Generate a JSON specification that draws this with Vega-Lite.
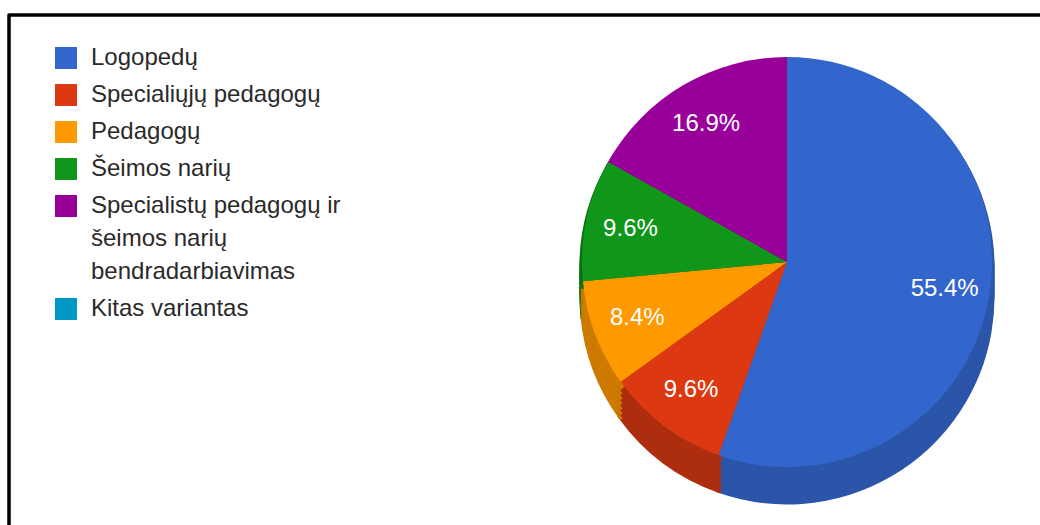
{
  "$schema": "https://vega.github.io/schema/vega-lite/v6.json",
  "width": 1040,
  "height": 520,
  "autosize": "none",
  "padding": {"left": 9, "top": 15, "right": 0, "bottom": 0},
  "background": "white",
  "config": {
    "view": {"stroke": "#000000", "strokeWidth": 3},
    "style": {"guide-label": {"lineHeight": 33}}
  },
  "datasets": {
    "antwoorden": [
      {"ord": 1, "kategorija": "Logopedų", "count": 46, "label": "55.4%"},
      {"ord": 2, "kategorija": "Specialiųjų pedagogų", "count": 8, "label": "9.6%"},
      {"ord": 3, "kategorija": "Pedagogų", "count": 7, "label": "8.4%"},
      {"ord": 4, "kategorija": "Šeimos narių", "count": 8, "label": "9.6%"},
      {"ord": 5, "kategorija": "Specialistų pedagogų ir šeimos narių bendradarbiavimas", "count": 14, "label": "16.9%"},
      {"ord": 6, "kategorija": "Kitas variantas", "count": 0, "label": ""}
    ],
    "frame": [{"f": 1}]
  },
  "data": {"name": "antwoorden"},
  "layer": [
    {
      "data": {"name": "frame"},
      "mark": {"type": "rule", "color": "#000000", "strokeWidth": 3},
      "encoding": {"x": {"datum": 0, "type": "quantitative", "scale": {"domain": [0, 1]}, "axis": null}}
    },
    {
      "data": {"name": "frame"},
      "mark": {"type": "rule", "color": "#000000", "strokeWidth": 3},
      "encoding": {"y": {"datum": 1, "type": "quantitative", "scale": {"domain": [0, 1]}, "axis": null}}
    },
    {
      "mark": {"type": "arc", "x": 778, "y": 247, "outerRadius": 205, "yOffset": 35, "strokeWidth": 5},
      "encoding": {
        "theta": {"field": "count", "type": "quantitative", "stack": true},
        "order": {"field": "ord", "type": "quantitative"},
        "fill": {"field": "kategorija", "type": "nominal", "scale": {"domain": ["Logopedų", "Specialiųjų pedagogų", "Pedagogų", "Šeimos narių", "Specialistų pedagogų ir šeimos narių bendradarbiavimas", "Kitas variantas"], "range": ["#2b55a9", "#ad2d0f", "#cc7a00", "#0c7012", "#720072", "#0077a0"]}, "legend": null},
        "stroke": {"field": "kategorija", "type": "nominal", "scale": {"domain": ["Logopedų", "Specialiųjų pedagogų", "Pedagogų", "Šeimos narių", "Specialistų pedagogų ir šeimos narių bendradarbiavimas", "Kitas variantas"], "range": ["#2b55a9", "#ad2d0f", "#cc7a00", "#0c7012", "#720072", "#0077a0"]}, "legend": null}
      }
    },
    {
      "mark": {"type": "arc", "x": 778, "y": 247, "outerRadius": 205, "yOffset": 30, "strokeWidth": 5},
      "encoding": {
        "theta": {"field": "count", "type": "quantitative", "stack": true},
        "order": {"field": "ord", "type": "quantitative"},
        "fill": {"field": "kategorija", "type": "nominal", "legend": null},
        "stroke": {"field": "kategorija", "type": "nominal", "legend": null}
      }
    },
    {
      "mark": {"type": "arc", "x": 778, "y": 247, "outerRadius": 205, "yOffset": 25, "strokeWidth": 5},
      "encoding": {
        "theta": {"field": "count", "type": "quantitative", "stack": true},
        "order": {"field": "ord", "type": "quantitative"},
        "fill": {"field": "kategorija", "type": "nominal", "legend": null},
        "stroke": {"field": "kategorija", "type": "nominal", "legend": null}
      }
    },
    {
      "mark": {"type": "arc", "x": 778, "y": 247, "outerRadius": 205, "yOffset": 20, "strokeWidth": 5},
      "encoding": {
        "theta": {"field": "count", "type": "quantitative", "stack": true},
        "order": {"field": "ord", "type": "quantitative"},
        "fill": {"field": "kategorija", "type": "nominal", "legend": null},
        "stroke": {"field": "kategorija", "type": "nominal", "legend": null}
      }
    },
    {
      "mark": {"type": "arc", "x": 778, "y": 247, "outerRadius": 205, "yOffset": 15, "strokeWidth": 5},
      "encoding": {
        "theta": {"field": "count", "type": "quantitative", "stack": true},
        "order": {"field": "ord", "type": "quantitative"},
        "fill": {"field": "kategorija", "type": "nominal", "legend": null},
        "stroke": {"field": "kategorija", "type": "nominal", "legend": null}
      }
    },
    {
      "mark": {"type": "arc", "x": 778, "y": 247, "outerRadius": 205, "yOffset": 10, "strokeWidth": 5},
      "encoding": {
        "theta": {"field": "count", "type": "quantitative", "stack": true},
        "order": {"field": "ord", "type": "quantitative"},
        "fill": {"field": "kategorija", "type": "nominal", "legend": null},
        "stroke": {"field": "kategorija", "type": "nominal", "legend": null}
      }
    },
    {
      "mark": {"type": "arc", "x": 778, "y": 247, "outerRadius": 205, "yOffset": 5, "strokeWidth": 5},
      "encoding": {
        "theta": {"field": "count", "type": "quantitative", "stack": true},
        "order": {"field": "ord", "type": "quantitative"},
        "fill": {"field": "kategorija", "type": "nominal", "legend": null},
        "stroke": {"field": "kategorija", "type": "nominal", "legend": null}
      }
    },
    {
      "mark": {"type": "arc", "x": 778, "y": 247, "outerRadius": 205},
      "encoding": {
        "theta": {"field": "count", "type": "quantitative", "stack": true},
        "order": {"field": "ord", "type": "quantitative"},
        "color": {
          "field": "kategorija", "type": "nominal",
          "scale": {
            "domain": ["Logopedų", "Specialiųjų pedagogų", "Pedagogų", "Šeimos narių", "Specialistų pedagogų ir šeimos narių bendradarbiavimas", "Kitas variantas"],
            "range": ["#3366cc", "#dc3912", "#ff9900", "#109618", "#990099", "#0099c6"]
          },
          "legend": {
            "orient": "none",
            "legendX": 45,
            "legendY": 31,
            "title": null,
            "padding": 0,
            "symbolType": "square",
            "symbolSize": 484,
            "symbolStrokeWidth": 0,
            "symbolOpacity": 1,
            "labelFont": "Arial",
            "labelFontSize": 24,
            "labelColor": "#2a2a2a",
            "labelOffset": 13,
            "labelLimit": 500,
            "rowPadding": 13,
            "labelExpr": "datum.label == 'Specialistų pedagogų ir šeimos narių bendradarbiavimas' ? ['Specialistų pedagogų ir', 'šeimos narių', 'bendradarbiavimas'] : datum.label"
          }
        }
      }
    },
    {
      "mark": {"type": "text", "x": 778, "y": 247, "radius": 160, "fill": "#ffffff", "font": "Arial", "fontSize": 24},
      "encoding": {
        "theta": {"field": "count", "type": "quantitative", "stack": true},
        "order": {"field": "ord", "type": "quantitative"},
        "text": {"field": "label", "type": "nominal"}
      }
    }
  ],
  "resolve": {"scale": {"color": "independent"}}
}
